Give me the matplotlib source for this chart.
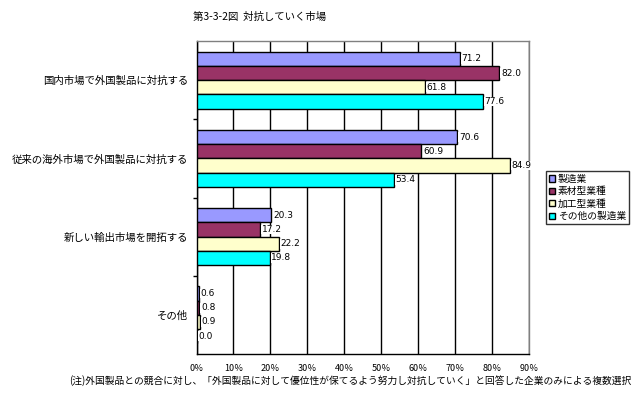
import numpy as np
import matplotlib.pyplot as plt
from matplotlib.patches import Patch

plt.rcParams['font.family'] = ['Noto Sans CJK JP', 'DejaVu Sans']

categories = ['国内市場で外国製品に対抗する', '従来の海外市場で外国製品に対抗する',
              '新しい輸出市場を開拓する', 'その他']
series = ['製造業', '素材型業種', '加工型業種', 'その他の製造業']
values = [
    [71.2, 70.6, 20.3, 0.6],
    [82.0, 60.9, 17.2, 0.8],
    [61.8, 84.9, 22.2, 0.9],
    [77.6, 53.4, 19.8, 0.0],
]
labels = [
    ['71.2', '70.6', '20.3', '0.6'],
    ['82.0', '60.9', '17.2', '0.8'],
    ['61.8', '84.9', '22.2', '0.9'],
    ['77.6', '53.4', '19.8', '0.0'],
]
colors = ['#9999FF', '#993366', '#FFFFCC', '#00FFFF']
xticks = [0, 10, 20, 30, 40, 50, 60, 70, 80, 90]

fig = plt.figure(figsize=(6.42, 4.0), dpi=100)
ax = fig.add_axes([196.5 / 642, 1 - 354 / 400, (529 - 196.5) / 642, (354 - 41) / 400])

y = np.arange(len(categories))
h = 0.182
for j, s in enumerate(series):
    pos = y + (j - 1.5) * h
    ax.barh(pos, values[j], height=h, color=colors[j], edgecolor='black',
            linewidth=1.0, label=s, zorder=3)
    for p, v, t in zip(pos, values[j], labels[j]):
        ax.text(v + 0.4, p, t, va='center', ha='left', fontsize=6.5,
                family='DejaVu Sans', zorder=4,
                bbox=dict(facecolor='white', edgecolor='none', pad=0.3))

ax.set_xlim(0, 90)
ax.set_ylim(len(categories) - 0.5, -0.5)
ax.set_xticks(xticks)
ax.set_xticklabels([f'{t}％' for t in xticks], fontsize=6.5)
ax.xaxis.grid(True, color='black', linewidth=1.0, zorder=0)
ax.tick_params(axis='x', length=0, pad=7)

ax.set_yticks(y)
ax.set_yticklabels(categories, fontsize=7.5)
ax.tick_params(axis='y', length=0, pad=6)
ax.set_yticks(y[:-1] + 0.5, minor=True)
ax.tick_params(axis='y', which='minor', length=3, width=1)

for side in ['left', 'bottom']:
    ax.spines[side].set_color('black')
    ax.spines[side].set_linewidth(1.0)
for side in ['top', 'right']:
    ax.spines[side].set_color('#808080')
    ax.spines[side].set_linewidth(1.0)

handles = [Patch(facecolor=c, edgecolor='black', label=s) for c, s in zip(colors, series)]
fig.legend(handles=handles, loc='upper left', bbox_to_anchor=(546 / 642, 1 - 171 / 400),
           fontsize=7, frameon=True, fancybox=False, edgecolor='black',
           handlelength=0.6, handleheight=0.6, handletextpad=0.3,
           borderpad=0.3, labelspacing=0.25, borderaxespad=0)

fig.text(260 / 642, 1 - 17 / 400, '第3-3-2図  対抗していく市場', ha='center', va='center',
         fontsize=7.5)
fig.text(350 / 642, 1 - 381 / 400,
         '(注)外国製品との競合に対し、「外国製品に対して優位性が保てるよう努力し対抗していく」と回答した企業のみによる複数選択',
         ha='center', va='center', fontsize=7)

fig.savefig('out.png', dpi=100)
